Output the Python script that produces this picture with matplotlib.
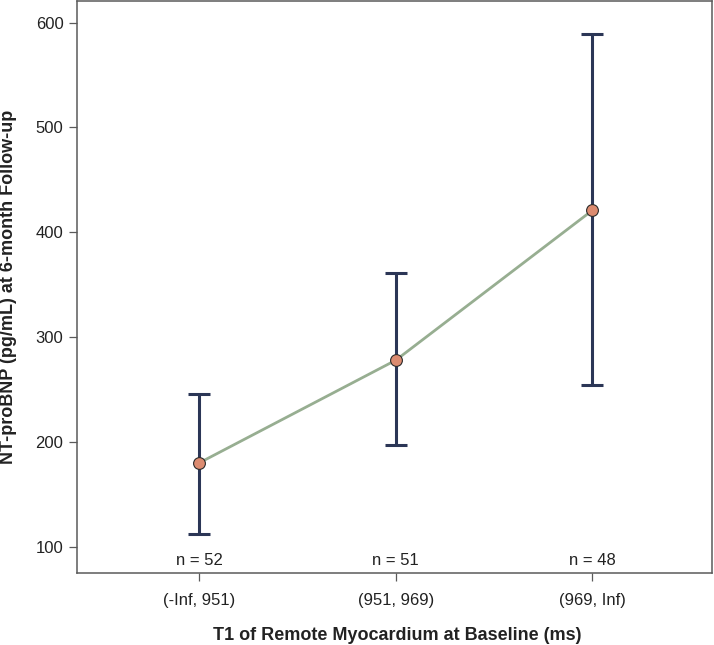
import numpy as np
import matplotlib.pyplot as plt

plt.rcParams['font.family'] = ['Liberation Sans', 'DejaVu Sans']

# Data
groups = ['(-Inf, 951)', '(951, 969)', '(969, Inf)']
means = [180, 278, 421]
lower = [112, 197, 254]
upper = [246, 361, 589]
counts = [52, 51, 48]

x = np.arange(len(groups))
yerr = [np.array(means) - np.array(lower), np.array(upper) - np.array(means)]

fig = plt.figure(figsize=(7.14, 6.45), dpi=100)
ax = fig.add_axes([0.1083, 0.1112, 0.8894, 0.8873])

ax.errorbar(x, means, yerr=yerr, fmt='none', ecolor='#2b3656', elinewidth=2.2,
            capsize=8, capthick=2.2, zorder=2)
ax.plot(x, means, '-', color='#97ae91', lw=2.0, zorder=3)
ax.plot(x, means, 'o', ms=8.5, mfc='#dc8b70', mec='#2a2a2a', mew=0.8, zorder=4)

for xi, n in zip(x, counts):
    ax.text(xi, 0.023, f'n = {n}', transform=ax.get_xaxis_transform(),
            ha='center', va='center', fontsize=12, color='#222222')

ax.set_xlim(-0.62, 2.61)
ax.set_ylim(74.7, 620.7)
ax.set_xticks(x)
ax.set_xticklabels(groups)
ax.set_yticks([100, 200, 300, 400, 500, 600])

for s in ax.spines.values():
    s.set_color('#5a5a5a')
    s.set_linewidth(1.1)
ax.tick_params(axis='both', length=6, width=0.9, color='#5a5a5a',
               labelsize=12, labelcolor='#222222')
ax.tick_params(axis='x', pad=8)
ax.tick_params(axis='y', pad=4)

fig.text(8.5 / 714, 1 - 287 / 645, 'NT-proBNP (pg/mL) at 6-month Follow-up',
         rotation=90, ha='center', va='center', fontsize=13, fontweight='bold',
         color='#222222')
fig.text(397 / 714, 1 - 635 / 645, 'T1 of Remote Myocardium at Baseline (ms)',
         ha='center', va='center', fontsize=13, fontweight='bold',
         color='#222222')

fig.savefig('out.png', dpi=100)
